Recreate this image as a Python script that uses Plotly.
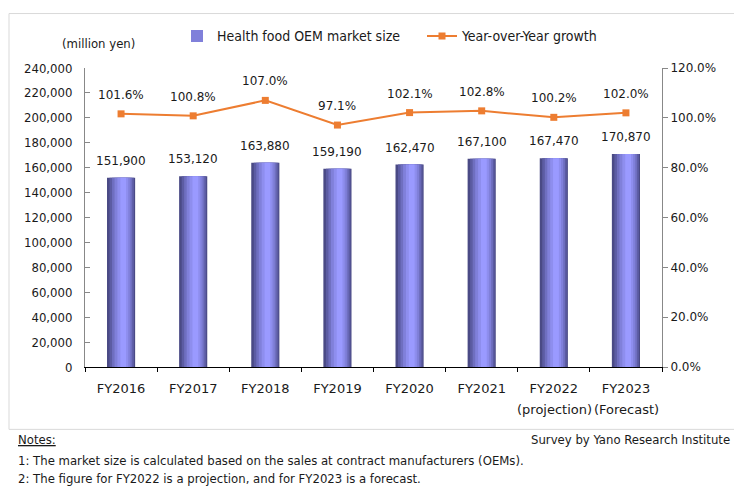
import plotly.graph_objects as go

categories = ["FY2016", "FY2017", "FY2018", "FY2019", "FY2020", "FY2021", "FY2022", "FY2023"]
sub_labels = ["", "", "", "", "", "", "(projection)", "(Forecast)"]
market_size = [151900, 153120, 163880, 159190, 162470, 167100, 167470, 170870]
yoy_growth = [101.6, 100.8, 107.0, 97.1, 102.1, 102.8, 100.2, 102.0]
left_ticks = list(range(0, 240001, 20000))
right_ticks = list(range(0, 121, 20))

OFF = 8  # page body margin
W, H = 742 - OFF, 496 - OFF
L = 85 - OFF
T = 65 - OFF
R = W - (662 - OFF)
B = H - (367 - OFF)
pw, ph = W - L - R, H - T - B

def px_x(px):
    return (px - OFF - L) / pw

def px_y(py):
    return (H - B - (py - OFF)) / ph

TICKFONT = "DejaVu Sans Condensed, Liberation Sans, sans-serif"
LABELFONT = "DejaVu Sans, Verdana, sans-serif"
TXT = "#1a1a1a"

fig = go.Figure()

# gradient-like bars: overlay layers (outer dark -> inner light)
layers = [
    (0.39, 0.0, "#4a4a85"),
    (0.34, 0.01, "#5c5ca3"),
    (0.28, 0.015, "#6f6fc0"),
    (0.22, 0.02, "#8080da"),
    (0.15, 0.025, "#8e8eee"),
    (0.08, 0.03, "#9a9aff"),
]
for i, (w, shift, col) in enumerate(layers):
    fig.add_trace(go.Bar(
        x=categories, y=market_size, width=w, offset=-w / 2 + shift,
        marker=dict(color=col, line=dict(width=0)),
        name="Health food OEM market size",
        showlegend=(i == 3), legend="legend",
        yaxis="y",
    ))

fig.add_trace(go.Scatter(
    x=categories, y=yoy_growth, yaxis="y2", mode="lines+markers",
    name="Year-over-Year growth", legend="legend2",
    line=dict(color="#ED7D31", width=2),
    marker=dict(symbol="square", size=7, color="#ED7D31"),
))

ann = []
for c, v in zip(categories, market_size):
    ann.append(dict(x=c, y=v, xref="x", yref="y", text=f"{v:,}", showarrow=False,
                    yanchor="bottom", yshift=8,
                    font=dict(family=LABELFONT, size=12, color=TXT)))
for c, v in zip(categories, yoy_growth):
    ann.append(dict(x=c, y=v, xref="x", yref="y2", text=f"{v:.1f}%", showarrow=False,
                    yanchor="bottom", yshift=10,
                    font=dict(family=LABELFONT, size=12, color=TXT)))
for c, s in zip(categories, sub_labels):
    if s:
        ann.append(dict(x=c, y=0, xref="x", yref="y", text=s, showarrow=False,
                        yanchor="middle", yshift=-42, xshift=1 if s == "(projection)" else 1,
                        font=dict(family=LABELFONT, size=13, color=TXT)))

def note(x, y, text, anchor="left", size=13):
    ann.append(dict(x=px_x(x), y=px_y(y), xref="paper", yref="paper", text=text,
                    showarrow=False, xanchor=anchor, yanchor="middle",
                    font=dict(family=TICKFONT, size=size, color=TXT)))

note(98, 40, "(million yen)", anchor="center", size=13)
note(16, 440, '<span style="text-decoration:underline">Notes:</span>')
note(732, 440, "Survey by Yano Research Institute", anchor="right")
note(16, 461, "1: The market size is calculated based on the sales at contract manufacturers (OEMs).")
note(16, 480, "2: The figure for FY2022 is a projection, and for FY2023 is a forecast.")

fig.update_layout(
    width=W, height=H, autosize=False,
    margin=dict(l=L, r=R, t=T, b=B),
    paper_bgcolor="white", plot_bgcolor="white",
    barmode="overlay",
    showlegend=True,
    legend=dict(orientation="h", x=px_x(177), y=px_y(33), xanchor="left", yanchor="middle",
                font=dict(family=TICKFONT, size=14, color=TXT), bgcolor="rgba(0,0,0,0)",
                itemwidth=30),
    legend2=dict(orientation="h", x=px_x(422), y=px_y(33), xanchor="left", yanchor="middle",
                 font=dict(family=TICKFONT, size=14, color=TXT), bgcolor="rgba(0,0,0,0)",
                 itemwidth=30),
    xaxis=dict(type="category", showgrid=False, showline=True, linecolor="#000000", linewidth=1,
               ticks="outside", tickson="boundaries", ticklen=4, tickcolor="#000000",
               ticklabelstandoff=9,
               tickfont=dict(family=LABELFONT, size=13, color=TXT)),
    yaxis=dict(range=[0, 240000], tickvals=left_ticks, ticktext=[f"{v:,}" for v in left_ticks],
               showgrid=False, zeroline=False, showline=True, linecolor="#888888",
               ticks="inside", ticklen=5, tickcolor="#888888", ticklabelstandoff=9,
               tickfont=dict(family=TICKFONT, size=13, color=TXT)),
    yaxis2=dict(range=[0, 120], overlaying="y", side="right", tickvals=right_ticks,
                ticktext=[f"{v:.1f}%" for v in right_ticks],
                showgrid=False, zeroline=False, showline=True, linecolor="#888888",
                ticks="outside", ticklen=5, tickcolor="#888888",
                tickfont=dict(family=LABELFONT, size=12, color=TXT)),
    annotations=ann,
    shapes=[dict(type="rect", xref="paper", yref="paper",
                 x0=px_x(9), x1=px_x(736), y0=px_y(430), y1=px_y(10),
                 line=dict(color="#d9d9d9", width=1), fillcolor="rgba(0,0,0,0)", layer="below")],
)

fig.write_html("out.html")
